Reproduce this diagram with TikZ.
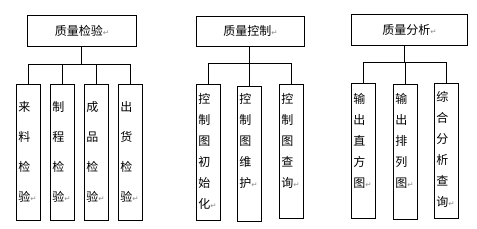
\documentclass[tikz,border=0pt]{standalone}
\usepackage{fontspec}
\setmainfont{Noto Sans CJK SC}
\newfontfamily\markfont{DejaVu Sans}
\usetikzlibrary{positioning}

\newcommand{\pmark}{{\markfont\fontsize{7.5}{7.5}\selectfont\color{black!45}↵}}

\begin{document}
\begin{tikzpicture}[
        x=1pt, y=-1pt,
        line width=0.8pt,
        font=\fontsize{12}{14}\selectfont,
        head/.style={draw, anchor=north west, inner sep=0pt, minimum height=31pt},
        leaf/.style={draw, anchor=north west, inner sep=0pt, minimum width=24pt},
        word/.style={anchor=north west, inner sep=0pt, align=left,
                     font=\fontsize{12}{21}\selectfont},
        wide/.style={font=\fontsize{12}{30}\selectfont},
        wire/.style={draw, line width=0.8pt}
    ]
    \useasboundingbox (0,0) rectangle (477,229);

    %% ---- group 1: inspection ----
    \node[head, minimum width=109pt] (qc) at (27,15) {质量检验\pmark};
    \node[leaf, minimum height=136pt] (lai)   at (16,84)  {};
    \node[leaf, minimum height=136pt] (zhi)   at (50,84)  {};
    \node[leaf, minimum height=136pt] (cheng) at (84,84)  {};
    \node[leaf, minimum height=136pt] (chu)   at (118,84) {};
    \node[word, wide] (laiw)   at (18,101)  {来\\料\\检\\验\pmark};
    \node[word, wide] (zhiw)   at (52,101)  {制\\程\\检\\验\pmark};
    \node[word, wide] (chengw) at (86,101)  {成\\品\\检\\验\pmark};
    \node[word, wide] (chuw)   at (120,101) {出\\货\\检\\验\pmark};

    \coordinate (ja) at (81,64);
    \draw[wire] (qc.south -| ja) -- (ja);
    \foreach \n in {lai,zhi,cheng,chu}
        \draw[wire] (ja) -| (\n.north);

    %% ---- group 2: control ----
    \node[head, minimum width=108pt, minimum height=30pt] (qk) at (196,16) {质量控制\pmark};
    \node[leaf, minimum height=136pt] (init)  at (196,84) {};
    \node[leaf, minimum height=135pt] (maint) at (237,86) {};
    \node[leaf, minimum height=134pt] (query) at (279,84) {};
    \node[word] (initw)  at (198,93) {控\\制\\图\\初\\始\\化\pmark};
    \node[word] (maintw) at (239,93) {控\\制\\图\\维\\护\pmark};
    \node[word] (queryw) at (281,93) {控\\制\\图\\查\\询\pmark};

    \coordinate (jb) at (249,63);
    \draw[wire] (qk.south -| jb) -- (jb);
    \foreach \n in {init,maint,query}
        \draw[wire] (jb) -| (\n.north);

    %% ---- group 3: analysis ----
    \node[head, minimum width=116pt] (qa) at (351,14) {质量分析\pmark};
    \node[leaf, minimum height=135pt] (hist)   at (351,83) {};
    \node[leaf, minimum height=135pt] (pareto) at (393,84) {};
    \node[leaf, minimum height=135pt] (combo)  at (434,83) {};
    \node[word] (histw)   at (353,93) {输\\出\\直\\方\\图\pmark};
    \node[word] (paretow) at (395,93) {输\\出\\排\\列\\图\pmark};
    \node[word] (combow)  at (436,91) {综\\合\\分\\析\\查\\询\pmark};

    \coordinate (jc) at (404,62);
    \draw[wire] (qa.south -| jc) -- (jc);
    \foreach \n in {hist,pareto,combo}
        \draw[wire] (jc) -| (\n.north);
\end{tikzpicture}
\end{document}
